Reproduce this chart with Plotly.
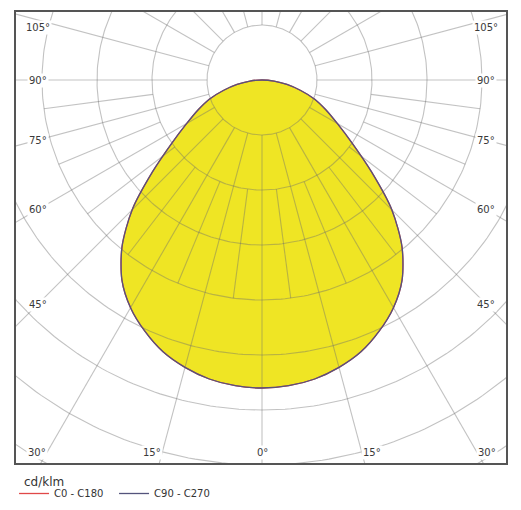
import numpy as np
import plotly.graph_objects as go

# ---- data (cd/klm) ----
gamma = [0, 5, 10, 15, 20, 25, 30, 35, 40, 45, 50, 55, 60, 65, 70, 75, 80, 85, 90]
c0_c180 = [280, 279, 276, 270.5, 263, 252, 239, 222, 198, 167, 130, 100, 79, 64, 51, 36, 23, 11, 0]
c90_c270 = [280, 279, 276, 270.5, 263, 252, 239, 222, 198, 167, 130, 100, 79, 64, 51, 36, 23, 11, 0]
ring_values = [50, 100, 150, 200, 250, 300, 350, 400]
side_labels = [45, 60, 75, 90, 105]
bottom_labels = [0, 15, 30]
series_names = ["C0 - C180", "C90 - C270"]

FONT = "DejaVu Sans"


def curve_xy(vals):
    g = np.array(gamma, dtype=float)
    v = np.array(vals, dtype=float)
    ang = np.concatenate([-g[::-1], g[1:]])
    r = np.concatenate([v[::-1], v[1:]])
    rad = np.radians(ang)
    return r * np.sin(rad), -r * np.cos(rad)


fig = go.Figure()

# yellow fill
fx, fy = curve_xy(c90_c270)
fig.add_trace(go.Scatter(x=fx, y=fy, mode="lines", fill="toself",
                         fillcolor="#efe524", line=dict(width=0, shape="spline", smoothing=0.8),
                         showlegend=False, hoverinfo="skip"))

# grid: rings
gx, gy = [], []
t = np.radians(np.arange(0, 361, 1))
for rv in ring_values:
    gx += list(rv * np.sin(t)) + [None]
    gy += list(-rv * np.cos(t)) + [None]
# main radial lines every 15 deg
for a in range(0, 360, 15):
    ra = np.radians(a)
    gx += [ring_values[0] * np.sin(ra), 500 * np.sin(ra), None]
    gy += [-ring_values[0] * np.cos(ra), -500 * np.cos(ra), None]
# intermediate radial lines (lower half only)
for a in np.arange(-82.5, 90, 15):
    ra = np.radians(a)
    gx += [ring_values[1] * np.sin(ra), ring_values[3] * np.sin(ra), None]
    gy += [-ring_values[1] * np.cos(ra), -ring_values[3] * np.cos(ra), None]
fig.add_trace(go.Scatter(x=gx, y=gy, mode="lines",
                         line=dict(color="rgba(110,110,110,0.42)", width=1.1),
                         showlegend=False, hoverinfo="skip"))

# outlines
colors = ["#e04848", "#54547c"]
for name, vals, col in zip(series_names, [c0_c180, c90_c270], colors):
    x, y = curve_xy(vals)
    fig.add_trace(go.Scatter(x=x, y=y, mode="lines", name=name,
                             line=dict(color=col, width=1.3, shape="spline", smoothing=0.8)))

# ---- axes geometry ----
px_per_unit = 1.1
xr = [-246 / px_per_unit, 244 / px_per_unit]
yr = [-383 / px_per_unit, 68 / px_per_unit]

ann = []
lab_font = dict(family=FONT, size=10, color="#3a3a3a")
side_x = 224 / px_per_unit
for a in side_labels:
    ra = np.radians(a)
    yv = -side_x * np.cos(ra) / np.sin(ra)
    for sgn in (-1, 1):
        ann.append(dict(x=sgn * side_x, y=yv, text=f"{a}°", showarrow=False,
                        font=lab_font, bgcolor="white", borderpad=1,
                        yshift=-8 if a > 90 else 0,
                        xanchor="center", yanchor="middle"))
bot_y = -372 / px_per_unit
for a in bottom_labels:
    xv = -bot_y * np.tan(np.radians(a))
    sides = (1,) if a == 0 else (-1, 1)
    for sgn in sides:
        ann.append(dict(x=sgn * xv, y=bot_y, text=f"{a}°", showarrow=False,
                        font=lab_font, bgcolor="white", borderpad=1,
                        xshift=sgn * 10 if a else 0,
                        xanchor="center", yanchor="middle"))
ann.append(dict(xref="paper", yref="paper", x=(22 - 16) / 490, y=(463 - 482) / 451,
                text="cd/klm", showarrow=False, xanchor="left", yanchor="middle",
                font=dict(family=FONT, size=12, color="#333")))

fig.update_layout(
    width=521, height=510,
    margin=dict(l=16, r=15, t=12, b=47, autoexpand=False),
    paper_bgcolor="white", plot_bgcolor="white",
    xaxis=dict(range=xr, showgrid=False, zeroline=False, showticklabels=False,
               ticks="", showline=True, mirror=True, linecolor="#555", linewidth=1.5),
    yaxis=dict(range=yr, showgrid=False, zeroline=False, showticklabels=False,
               ticks="", showline=True, mirror=True, linecolor="#555", linewidth=1.5),
    annotations=ann,
    showlegend=True,
    legend=dict(orientation="h", x=-0.004, xanchor="left", y=(463 - 479) / 451, yanchor="top",
                font=dict(family=FONT, size=10, color="#333"), bgcolor="rgba(0,0,0,0)",
                itemwidth=30, tracegroupgap=0, entrywidth=55),
    font=dict(family=FONT),
)

fig.write_html("out.html")
